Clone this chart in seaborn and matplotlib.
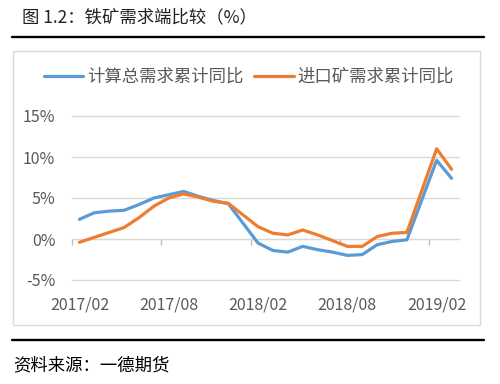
import numpy as np
import pandas as pd
import seaborn as sns
import matplotlib.pyplot as plt
from matplotlib.lines import Line2D
from matplotlib.patches import Rectangle

nan = np.nan

# monthly categories, Jan has no cumulative figure
months = pd.period_range("2017-02", "2019-03", freq="M").strftime("%Y/%m").tolist()
total_demand = [2.4, 3.2, 3.4, 3.5, 4.2, 5.0, 5.4, 5.8, 5.2, 4.7, 4.3, nan,
                -0.5, -1.4, -1.6, -0.9, -1.3, -1.6, -2.0, -1.9, -0.7, -0.3, -0.1, nan,
                9.6, 7.4]
import_demand = [-0.4, 0.2, 0.8, 1.4, 2.6, 4.0, 5.0, 5.5, 5.1, 4.6, 4.35, nan,
                 1.5, 0.7, 0.5, 1.1, 0.5, -0.2, -0.9, -0.9, 0.3, 0.7, 0.8, nan,
                 11.0, 8.5]
series_names = ["计算总需求累计同比", "进口矿需求累计同比"]
label_months = ["2017/02", "2017/08", "2018/02", "2018/08", "2019/02"]
yticks = [-5, 0, 5, 10, 15]

df = pd.DataFrame({"month": months, "pos": range(len(months)),
                   series_names[0]: total_demand, series_names[1]: import_demand})
long_df = df.melt(id_vars=["month", "pos"], var_name="series", value_name="value").dropna()

sns.set_style("white")
plt.rcParams["font.family"] = ["Noto Sans CJK SC", "DejaVu Sans"]

grey = "#595959"
fig = plt.figure(figsize=(5, 3.84), dpi=100)

# frame, rules and captions
fig.add_artist(Rectangle((13 / 500, 1 - 325 / 384), 467 / 500, 274 / 384,
                         transform=fig.transFigure, fill=False, edgecolor="#d9d9d9", lw=1))
for yy in [37, 340]:
    fig.add_artist(Line2D([12 / 500, 484 / 500], [1 - yy / 384] * 2, color="black", lw=1.7))
fig.text(22 / 500, 1 - 17 / 384, "图 1.2：铁矿需求端比较（%）", fontsize=12.5, color="#222222", va="center")
fig.text(13 / 500, 1 - 365 / 384, "资料来源：一德期货", fontsize=12.5, color="black", va="center")

ax = fig.add_axes([72 / 500, 1 - 280 / 384, 387 / 500, 164 / 384])
sns.lineplot(data=long_df, x="pos", y="value", hue="series", hue_order=series_names,
             palette=["#5B9BD5", "#ED7D31"], lw=2.3, ax=ax, legend=False)

ax.set_xlim(-0.5, len(months) - 0.5)
ax.set_ylim(yticks[0], yticks[-1])
for v in yticks:
    ax.axhline(v, color="#d9d9d9", lw=1, zorder=0, clip_on=False)
for s in ax.spines.values():
    s.set_visible(False)

ax.set_yticks(yticks, [f"{v}%" for v in yticks])
pos_of = {m: i for i, m in enumerate(months)}
ax.set_xticks([pos_of[m] for m in label_months], label_months)
ax.tick_params(axis="both", length=0, colors=grey, labelsize=11.5)
ax.tick_params(axis="y", pad=12)
ax.tick_params(axis="x", pad=12)
ax.set_xlabel("")
ax.set_ylabel("")

# category axis at zero with tick marks between categories
zero_frac = (0 - yticks[0]) / (yticks[-1] - yticks[0])
sec = ax.secondary_xaxis(zero_frac)
sec.set_xticks([pos_of[m] - 0.5 for m in label_months], [])
sec.tick_params(direction="out", length=4, color="#bfbfbf", width=1)
sec.spines["bottom"].set_color("#d9d9d9")

handles = [Line2D([], [], color=c, lw=2.3) for c in ["#5B9BD5", "#ED7D31"]]
leg = fig.legend(handles, series_names, loc="center", bbox_to_anchor=(0.497, 1 - 77 / 384),
                 ncol=2, frameon=False, fontsize=12.5, handlelength=2.3, handletextpad=0.2,
                 columnspacing=0.6, borderpad=0)
for t in leg.get_texts():
    t.set_color(grey)

fig.savefig("out.png", dpi=100)
